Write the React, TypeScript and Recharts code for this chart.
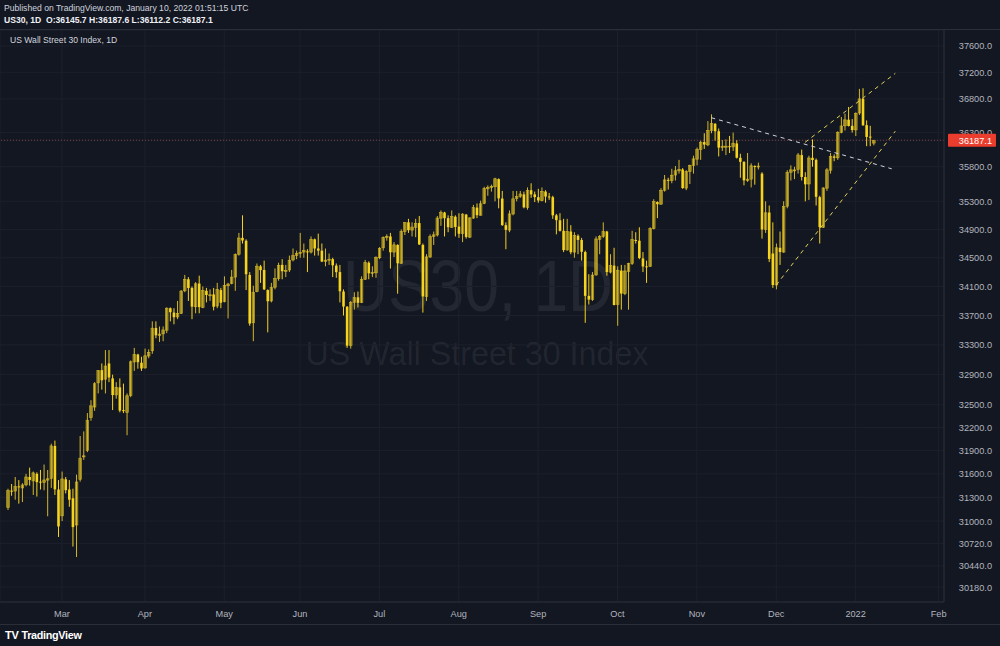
import React from 'react';
import { ComposedChart, Bar, XAxis, YAxis, CartesianGrid, ReferenceLine } from 'recharts';

type OHLC = [number, number, number, number]; // open, high, low, close

const feb21: OHLC[] = [
  [31170, 31410, 31140, 31385], [31385, 31470, 31320, 31375], [31380, 31560, 31270, 31437],
  [31440, 31520, 31220, 31430], [31420, 31480, 31240, 31458], [31460, 31600, 31440, 31560],
  [31560, 31680, 31450, 31522], [31510, 31630, 31330, 31613], [31600, 31620, 31310, 31494],
  [31500, 31650, 31400, 31494], [31490, 31720, 31390, 31522], [31520, 31650, 31060, 31537],
  [31540, 31990, 31420, 31961], [31960, 32030, 31330, 31402], [31400, 31520, 30800, 30932],
];
const mar21: OHLC[] = [
  [31066, 31630, 31000, 31535], [31530, 31560, 31350, 31391], [31400, 31520, 31180, 31270],
  [31288, 31410, 30680, 30924], [30950, 31590, 30550, 31496], [31530, 32090, 31500, 31802],
  [31830, 32150, 31780, 31832], [31900, 32390, 31880, 32297], [32330, 32560, 32290, 32485],
  [32470, 32800, 32420, 32779], [32790, 32960, 32650, 32953], [32960, 33050, 32700, 32825],
  [32840, 33230, 32650, 33015], [33050, 33230, 32800, 32862], [32850, 32900, 32430, 32628],
  [32630, 32800, 32580, 32731], [32730, 32850, 32400, 32423], [32430, 32780, 32390, 32420],
  [32400, 32650, 32100, 32619], [32620, 33090, 32600, 33072], [33070, 33260, 32950, 33171],
  [33170, 33180, 32980, 33067], [33060, 33140, 32950, 32982],
];
const apr21: OHLC[] = [
  [32990, 33250, 32980, 33153], [33150, 33240, 33120, 33200], [33220, 33620, 33180, 33527],
  [33530, 33620, 33390, 33430], [33430, 33550, 33340, 33446], [33450, 33550, 33350, 33503],
  [33500, 33810, 33460, 33801], [33800, 33810, 33620, 33745], [33740, 33800, 33580, 33677],
  [33680, 33900, 33650, 33730], [33730, 34050, 33720, 34036], [34040, 34260, 34020, 34200],
  [34200, 34230, 33900, 34078], [34080, 34100, 33650, 33821], [33820, 34160, 33730, 34137],
  [34140, 34250, 33730, 33815], [33810, 34100, 33800, 34043], [34040, 34080, 33880, 33982],
  [33980, 34060, 33900, 33985], [33990, 34080, 33770, 33820], [33830, 34150, 33800, 34060],
  [34050, 34080, 33800, 33875],
];
const may21: OHLC[] = [
  [33890, 34240, 33880, 34113], [34110, 34150, 33660, 34133], [34140, 34330, 34130, 34230],
  [34230, 34560, 34040, 34548], [34550, 34850, 34530, 34778], [34780, 35100, 34700, 34743],
  [34740, 34760, 34050, 34270], [34260, 34300, 33560, 33590], [33600, 34110, 33350, 34021],
  [34030, 34420, 34020, 34382], [34380, 34400, 34150, 34327], [34330, 34460, 34050, 34060],
  [34050, 34060, 33470, 33896], [33900, 34150, 33880, 34084], [34090, 34350, 34060, 34208],
  [34210, 34430, 34180, 34394], [34400, 34480, 34200, 34312], [34320, 34400, 34230, 34323],
  [34330, 34530, 34300, 34465], [34470, 34630, 34450, 34529], [34530, 34600, 34480, 34560],
];
const jun21: OHLC[] = [
  [34560, 34850, 34500, 34575], [34580, 34700, 34500, 34600], [34590, 34620, 34300, 34577],
  [34580, 34800, 34560, 34756], [34760, 34770, 34530, 34630], [34630, 34840, 34530, 34600],
  [34600, 34700, 34440, 34447], [34450, 34630, 34380, 34467], [34470, 34560, 34400, 34480],
  [34480, 34500, 34230, 34394], [34390, 34420, 34220, 34299], [34300, 34400, 33880, 34033],
  [34030, 34060, 33700, 33823], [33820, 33830, 33260, 33290], [33290, 33900, 33250, 33877],
  [33880, 34020, 33780, 33946], [33950, 34030, 33810, 33874], [33880, 34240, 33870, 34196],
  [34200, 34470, 34190, 34433], [34430, 34450, 34200, 34283], [34280, 34380, 34230, 34292],
  [34290, 34520, 34220, 34503],
];
const jul21: OHLC[] = [
  [34500, 34650, 34480, 34633], [34640, 34800, 34600, 34786], [34790, 34830, 34740, 34800],
  [34800, 34850, 34350, 34577], [34580, 34720, 34510, 34681], [34680, 34690, 34000, 34422],
  [34420, 34900, 34420, 34870], [34870, 35000, 34820, 34996], [35000, 35050, 34850, 34889],
  [34890, 35000, 34800, 34933], [34930, 35050, 34790, 34987], [34990, 35090, 34680, 34687],
  [34680, 34700, 33740, 33962], [33960, 34550, 33900, 34512], [34510, 34830, 34500, 34798],
  [34800, 34870, 34680, 34823], [34820, 35090, 34800, 35061], [35060, 35170, 34950, 35144],
  [35140, 35150, 34800, 35059], [35060, 35100, 34860, 34931], [34930, 35170, 34920, 35085],
  [35080, 35100, 34800, 34935],
];
const aug21: OHLC[] = [
  [34940, 35130, 34780, 34838], [34840, 35130, 34720, 35117], [35110, 35120, 34770, 34793],
  [34790, 35070, 34780, 35064], [35060, 35250, 35050, 35209], [35210, 35270, 35060, 35102],
  [35100, 35310, 35100, 35265], [35270, 35510, 35260, 35485], [35480, 35530, 35380, 35500],
  [35500, 35540, 35440, 35515], [35510, 35640, 35300, 35625], [35620, 35630, 35200, 35343],
  [35340, 35450, 34950, 34961], [34960, 35000, 34620, 34894], [34890, 35170, 34860, 35120],
  [35120, 35450, 35100, 35336], [35340, 35450, 35300, 35367], [35370, 35450, 35350, 35406],
  [35400, 35440, 35200, 35214], [35210, 35500, 35180, 35456], [35460, 35560, 35350, 35400],
  [35400, 35440, 35290, 35361],
];
const sep21: OHLC[] = [
  [35360, 35480, 35280, 35313], [35310, 35500, 35300, 35444], [35440, 35460, 35280, 35369],
  [35370, 35420, 35320, 35360], [35360, 35380, 35050, 35100], [35100, 35120, 34830, 35031],
  [35030, 35130, 34870, 34879], [34880, 35050, 34580, 34608], [34610, 35050, 34600, 34870],
  [34870, 34960, 34550, 34578], [34580, 34860, 34500, 34814], [34810, 34830, 34550, 34751],
  [34750, 34780, 34460, 34584], [34580, 34600, 33600, 33970], [33970, 34270, 33850, 33919],
  [33920, 34300, 33900, 34258], [34260, 34800, 34250, 34765], [34760, 34820, 34550, 34798],
  [34800, 35000, 34780, 34870], [34870, 34880, 34250, 34300], [34300, 34550, 34280, 34390],
  [34390, 34640, 33840, 33844],
];
const oct21: OHLC[] = [
  [33850, 34380, 33560, 34326], [34320, 34400, 33780, 34002], [34000, 34400, 33980, 34315],
  [34310, 34430, 33780, 34417], [34420, 34880, 34400, 34755], [34750, 34860, 34700, 34746],
  [34740, 34930, 34480, 34496], [34490, 34580, 34300, 34378], [34380, 34460, 34150, 34377],
  [34380, 34930, 34370, 34912], [34910, 35330, 34900, 35295], [35290, 35300, 35060, 35259],
  [35260, 35490, 35250, 35458], [35460, 35680, 35440, 35609], [35610, 35640, 35470, 35603],
  [35600, 35770, 35560, 35677], [35680, 35810, 35600, 35741], [35740, 35900, 35700, 35757],
  [35760, 35780, 35480, 35491], [35490, 35750, 35460, 35731], [35730, 35830, 35550, 35820],
];
const nov21: OHLC[] = [
  [35820, 35960, 35700, 35914], [35910, 36080, 35820, 36053], [36050, 36180, 35900, 36158],
  [36160, 36290, 36060, 36124], [36120, 36470, 36100, 36328], [36330, 36570, 36290, 36432],
  [36430, 36440, 36180, 36320], [36320, 36360, 35950, 36079], [36080, 36190, 36030, 36100],
  [36100, 36200, 35970, 36100], [36100, 36250, 36000, 36087], [36090, 36300, 36030, 36143],
  [36140, 36190, 35920, 35931], [35930, 35990, 35640, 35871], [35870, 35880, 35530, 35602],
  [35600, 36000, 35580, 35619], [35620, 35850, 35500, 35814], [35810, 35820, 35540, 35804],
  [35800, 35860, 35760, 35810], [35700, 35720, 34770, 34899], [34900, 35300, 34850, 35136],
  [35140, 35240, 34440, 34484],
];
const dec21: OHLC[] = [
  [34560, 35000, 34080, 34120], [34120, 34700, 34060, 34640], [34640, 34870, 34400, 34580],
  [34580, 35300, 34570, 35227], [35230, 35750, 35200, 35719], [35720, 35820, 35600, 35754],
  [35750, 35800, 35620, 35754], [35760, 36000, 35700, 35971], [35970, 36050, 35600, 35651],
  [35650, 35720, 35300, 35545], [35550, 35960, 35320, 35927], [35930, 36200, 35800, 35898],
  [35900, 35920, 35240, 35365], [35360, 35380, 34700, 34932], [34930, 35500, 34920, 35493],
  [35490, 35780, 35450, 35754], [35750, 36000, 35700, 35951], [35950, 35980, 35880, 35930],
  [35930, 36320, 35900, 36302], [36300, 36530, 36290, 36398], [36400, 36580, 36330, 36488],
  [36490, 36680, 36390, 36398], [36400, 36500, 36300, 36338],
];
const jan22: OHLC[] = [
  [36340, 36600, 36250, 36585], [36590, 36950, 36560, 36800], [36800, 36960, 36400, 36408],
  [36410, 36480, 36100, 36236], [36240, 36400, 36100, 36232], [36145.7, 36187.6, 36112.2, 36187.1],
];

const monthTickIndex = [15, 38, 60, 81, 103, 125, 147, 169, 191, 213, 235, 258];
const monthTickLabel = ['Mar', 'Apr', 'May', 'Jun', 'Jul', 'Aug', 'Sep', 'Oct', 'Nov', 'Dec', '2022', 'Feb'];
const priceTicks = [30180, 30440, 30720, 31000, 31300, 31600, 31900, 32200, 32500, 32900, 33300, 33700,
  34100, 34500, 34900, 35300, 35800, 36300, 36800, 37200, 37600];
const lastPrice = 36187.1;
const priceDomain: [number, number] = [29997, 37845];
const totalSlots = 260;

// trend lines: [startIndex, startPrice, endIndex, endPrice]
const whiteLine = [195, 36520, 245, 35770];
const lowerYellow = [213, 34120, 246, 36320];
const upperYellow = [221, 36157, 246, 37184];

const candles: OHLC[] = [...feb21, ...mar21, ...apr21, ...may21, ...jun21, ...jul21, ...aug21,
  ...sep21, ...oct21, ...nov21, ...dec21, ...jan22];

const data = Array.from({ length: totalSlots }, (_, i) => {
  const c = candles[i];
  return c ? { i, o: c[0], h: c[1], l: c[2], c: c[3], range: [c[2], c[1]] } : { i };
});

const DOWN_FILL = '#f6d31c';
const UP_FILL = 'rgba(246,211,28,0.4)';
const UP_STROKE = '#d2b62b';
const FONT = '"Liberation Sans", Arial, sans-serif';
const BG = '#131722';
const TEXT = '#b2b5be';

const Candle = (props: any) => {
  const { x, y, width, height, payload } = props;
  if (!payload || payload.o == null || x == null) return null;
  const { o, h, l, c } = payload;
  const top = Math.min(y, y + height);
  const bottom = Math.max(y, y + height);
  const span = Math.log(h / l);
  const py = (p: number) => (span > 0 ? top + (bottom - top) * Math.log(h / p) / span : top);
  const cx = x + width / 2;
  const up = c >= o;
  const bTop = py(Math.max(o, c));
  const bBot = py(Math.min(o, c));
  const bw = 2.6;
  return (
    <g>
      <line x1={cx} x2={cx} y1={top} y2={bottom} stroke={up ? UP_STROKE : DOWN_FILL} strokeWidth={1} />
      <rect x={cx - bw / 2} y={bTop} width={bw} height={Math.max(1, bBot - bTop)}
        fill={up ? UP_FILL : DOWN_FILL} stroke={up ? UP_STROKE : DOWN_FILL} strokeWidth={up ? 0.6 : 0} />
    </g>
  );
};

const PriceTick = (props: any) => {
  const { x, y, payload } = props;
  const v = payload.value;
  if (v === lastPrice) {
    return (
      <g>
        <rect x={x - 4} y={y - 6.5} width={48} height={13} rx={1} fill="#ea3d2d" />
        <text x={x + 40} y={y + 3.5} textAnchor="end" fill="#ffffff" fontSize={9.2} fontFamily={FONT}>{v.toFixed(1)}</text>
      </g>
    );
  }
  return (
    <text x={x + 40} y={y + 3.5} textAnchor="end" fill={TEXT} fontSize={9.2} fontFamily={FONT}>{v.toFixed(1)}</text>
  );
};

const seg = (s: number[]) => [{ x: s[0], y: s[1] }, { x: s[2], y: s[3] }];

export default function App() {
  return (
    <div style={{ position: 'absolute', left: 0, top: 0, width: 1000, height: 646, background: BG, overflow: 'hidden', fontFamily: FONT }}>
      <div style={{ position: 'absolute', left: 4, top: 3, fontSize: 8.6, lineHeight: '10px', color: '#d1d4dc' }}>
        Published on TradingView.com, January 10, 2022 01:51:15 UTC
      </div>
      <div style={{ position: 'absolute', left: 4, top: 15, fontSize: 8.6, lineHeight: '10px', color: '#eef0f4', fontWeight: 'bold' }}>
        US30, 1D&nbsp; O:36145.7 H:36187.6 L:36112.2 C:36187.1
      </div>
      <svg width={1000} height={646} style={{ position: 'absolute', left: 0, top: 0 }}>
        <text x={478} y={311} textAnchor="middle" fontSize={72} fontFamily={FONT} fill="rgba(255,255,255,0.07)"
          textLength={270} lengthAdjust="spacingAndGlyphs">US30, 1D</text>
        <text x={477} y={365} textAnchor="middle" fontSize={34} fontFamily={FONT} fill="rgba(255,255,255,0.07)"
          textLength={343} lengthAdjust="spacingAndGlyphs">US Wall Street 30 Index</text>
      </svg>
      <div style={{ position: 'absolute', left: 0, top: 0 }}>
        <ComposedChart width={1000} height={646} data={data} margin={{ top: 30, right: 0, bottom: 22, left: 0 }}
          barCategoryGap={0}>
          <CartesianGrid stroke="#1c202c" strokeWidth={1} />
          <XAxis dataKey="i" type="category" ticks={monthTickIndex} interval={0} height={22}
            tickFormatter={(v: number) => monthTickLabel[monthTickIndex.indexOf(v)] ?? ''}
            tick={{ fill: TEXT, fontSize: 9.2, fontFamily: FONT }} tickLine={false}
            axisLine={{ stroke: '#2a2e39' }} padding={{ left: 6, right: 0 }} />
          <YAxis orientation="right" width={56} scale="log" domain={priceDomain} allowDataOverflow
            ticks={[...priceTicks, lastPrice]} interval={0} tick={<PriceTick />} tickLine={false}
            axisLine={{ stroke: '#2a2e39' }} />
          <ReferenceLine y={lastPrice} stroke="#c0564c" strokeOpacity={0.6} strokeDasharray="1 2" />
          <Bar dataKey="range" shape={<Candle />} isAnimationActive={false} />
          <ReferenceLine segment={seg(whiteLine)} stroke="#d1d4dc" strokeDasharray="4 4" strokeWidth={1} ifOverflow="visible" />
          <ReferenceLine segment={seg(lowerYellow)} stroke="#e3d25a" strokeDasharray="4 4" strokeWidth={1} ifOverflow="visible" />
          <ReferenceLine segment={seg(upperYellow)} stroke="#e3d25a" strokeDasharray="4 4" strokeWidth={1} ifOverflow="visible" />
        </ComposedChart>
      </div>
      <div style={{ position: 'absolute', left: 10, top: 35, fontSize: 8.6, lineHeight: '10px', color: '#d1d4dc' }}>
        US Wall Street 30 Index, 1D
      </div>
      <div style={{ position: 'absolute', left: 0, top: 29, width: 1000, height: 1, background: '#2a2e39' }} />
      <div style={{ position: 'absolute', left: 0, top: 624, width: 1000, height: 1, background: '#2a2e39' }} />
      <div style={{ position: 'absolute', left: 5, top: 629, fontSize: 10.8, lineHeight: '12px', color: '#ffffff', fontWeight: 'bold', letterSpacing: -0.3 }}>
        <span style={{ fontSize: 11, marginRight: 3 }}>TV</span>TradingView
      </div>
    </div>
  );
}
